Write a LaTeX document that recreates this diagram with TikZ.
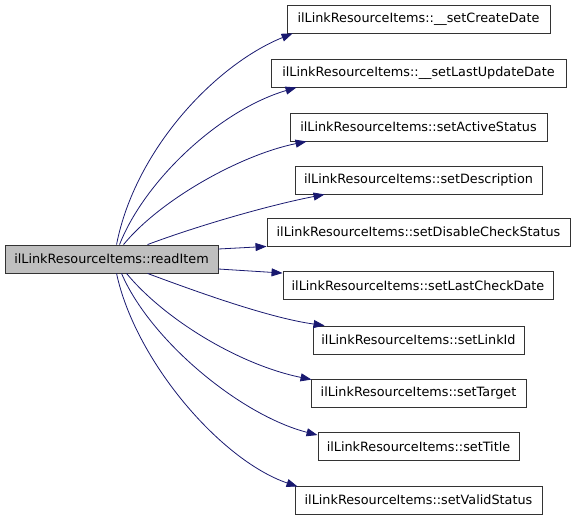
\documentclass[tikz,border=0pt]{standalone}
\usepackage{fontspec}
\setmainfont{DejaVu Sans}
\usetikzlibrary{arrows.meta}
\definecolor{edgecol}{RGB}{25,25,112}
\definecolor{mainfill}{RGB}{191,191,191}
\tikzset{
  fn/.style={draw=black!80, line width=0.9pt, fill=white, inner sep=0pt, minimum height=28pt, font=\fontsize{12.8}{14}\selectfont, anchor=center},
  mainfn/.style={fn, fill=mainfill},
  call/.style={draw=edgecol, line width=0.8pt, -{Triangle[length=11pt,width=8pt]}, fill=none},
}
\begin{document}
\begin{tikzpicture}[x=1pt,y=-1pt]
\useasboundingbox (0,0) rectangle (576,520);
\node[mainfn, minimum width=213pt] (main) at (111.5,259) {ilLinkResourceItems::readItem};
\node[fn, minimum width=263pt] (n1) at (418.5,19) {ilLinkResourceItems::\_\_setCreateDate};
\node[fn, minimum width=295pt] (n2) at (418.5,73) {ilLinkResourceItems::\_\_setLastUpdateDate};
\node[fn, minimum width=257pt] (n3) at (418.5,127) {ilLinkResourceItems::setActiveStatus};
\node[fn, minimum width=247pt] (n4) at (418.5,180) {ilLinkResourceItems::setDescription};
\node[fn, minimum width=303pt] (n5) at (418.5,232) {ilLinkResourceItems::setDisableCheckStatus};
\node[fn, minimum width=270pt] (n6) at (418,285.5) {ilLinkResourceItems::setLastCheckDate};
\node[fn, minimum width=211pt] (n7) at (418.5,340) {ilLinkResourceItems::setLinkId};
\node[fn, minimum width=215pt] (n8) at (418.5,393) {ilLinkResourceItems::setTarget};
\node[fn, minimum width=201pt] (n9) at (418.5,446.5) {ilLinkResourceItems::setTitle};
\node[fn, minimum width=247pt] (n10) at (418.5,500) {ilLinkResourceItems::setValidStatus};

\draw[call] ([xshift=112pt]main.north west) .. controls (135,150) and (215,65) .. ([xshift=6pt]n1.south west);
\draw[call] ([xshift=115pt]main.north west) .. controls (145,180) and (220,110) .. ([xshift=26pt]n2.south west);
\draw[call] ([xshift=119pt]main.north west) .. controls (160,200) and (240,155) .. ([xshift=17pt]n3.south west);
\draw[call] ([xshift=143pt]main.north west) .. controls (200,225) and (270,205) .. ([xshift=30pt]n4.south west);
\draw[call] ([yshift=10pt]main.east) -- (n5.south west);
\draw[call] ([yshift=-10pt]main.east) -- ([yshift=-2pt]n6.north west);
\draw[call] ([xshift=143pt]main.south west) .. controls (200,293) and (270,318) .. ([xshift=12pt]n7.north west);
\draw[call] ([xshift=122pt]main.south west) .. controls (165,320) and (240,365) .. ([xshift=1pt,yshift=-1pt]n8.north west);
\draw[call] ([xshift=117pt]main.south west) .. controls (150,340) and (240,415) .. ([yshift=-3pt]n9.north west);
\draw[call] ([xshift=112pt]main.south west) .. controls (135,360) and (220,460) .. ([xshift=3pt,yshift=-1pt]n10.north west);
\end{tikzpicture}
\end{document}
